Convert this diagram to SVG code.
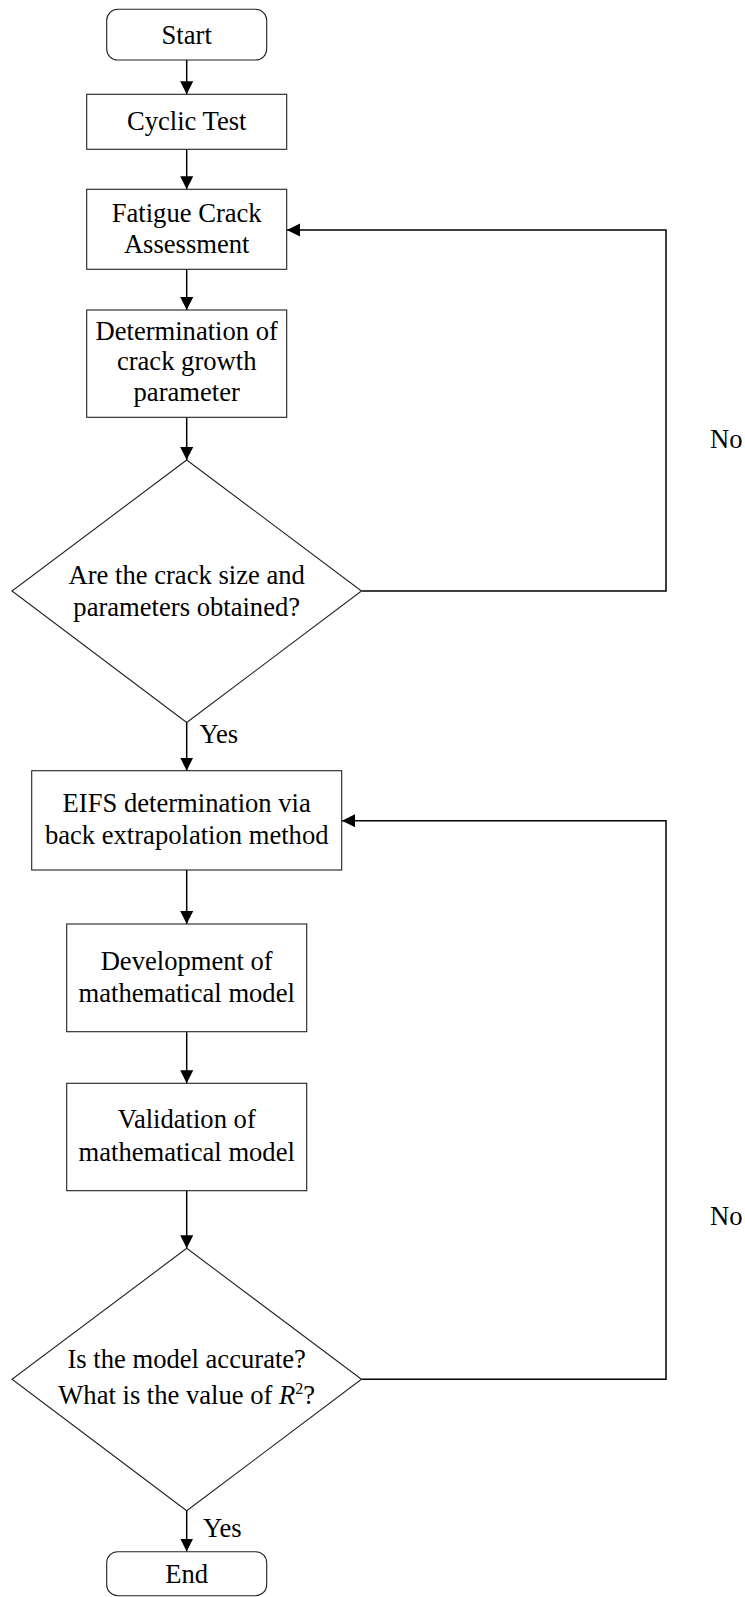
<svg xmlns="http://www.w3.org/2000/svg" width="745" height="1597" viewBox="0 0 745 1597">
<style>
.box{fill:#fff;stroke:#222;stroke-width:1.1}
.t{font-family:"Liberation Serif","Times New Roman",serif;font-size:26.6px;fill:#000;text-anchor:middle}
.lbl{font-family:"Liberation Serif","Times New Roman",serif;font-size:26.6px;fill:#000}
.c{fill:none;stroke:#000;stroke-width:1.5}
</style>
<defs>
<marker id="ah" markerUnits="userSpaceOnUse" markerWidth="14" markerHeight="14" refX="13" refY="6.5" orient="auto">
<path d="M0,0 L13,6.5 L0,13 z" fill="#000"/>
</marker>
</defs>
<rect width="745" height="1597" fill="#fff"/>
<g id="connectors">
<line class="c" x1="186.7" y1="60" x2="186.7" y2="94.3" marker-end="url(#ah)"/>
<line class="c" x1="186.7" y1="149.3" x2="186.7" y2="189.3" marker-end="url(#ah)"/>
<line class="c" x1="186.7" y1="269.3" x2="186.7" y2="310" marker-end="url(#ah)"/>
<line class="c" x1="186.7" y1="417.3" x2="186.7" y2="460" marker-end="url(#ah)"/>
<polyline class="c" points="361.5,591 666,591 666,230 287,230" marker-end="url(#ah)"/>
<line class="c" x1="186.7" y1="722.5" x2="186.7" y2="770.7" marker-end="url(#ah)"/>
<line class="c" x1="186.7" y1="870" x2="186.7" y2="924" marker-end="url(#ah)"/>
<line class="c" x1="186.7" y1="1031.7" x2="186.7" y2="1083.3" marker-end="url(#ah)"/>
<line class="c" x1="186.7" y1="1190.7" x2="186.7" y2="1248.3" marker-end="url(#ah)"/>
<polyline class="c" points="361.5,1379.3 666,1379.3 666,820.7 342,820.7" marker-end="url(#ah)"/>
<line class="c" x1="186.7" y1="1510.7" x2="186.7" y2="1551.5" marker-end="url(#ah)"/>
<text class="lbl" x="710" y="448">No</text>
<text class="lbl" x="710" y="1225">No</text>
<text class="lbl" x="199.5" y="743">Yes</text>
<text class="lbl" x="203" y="1537">Yes</text>
</g>
<g id="start">
<rect class="box" x="106.7" y="9.3" width="160" height="50.7" rx="11"/>
<text class="t" x="186.7" y="43.5">Start</text>
</g>
<g id="cyclic">
<rect class="box" x="86.7" y="94.3" width="200" height="55"/>
<text class="t" x="186.7" y="130">Cyclic Test</text>
</g>
<g id="fatigue">
<rect class="box" x="86.7" y="189.3" width="200" height="80"/>
<text class="t" x="186.7" y="221.7">Fatigue Crack</text>
<text class="t" x="186.7" y="253.3">Assessment</text>
</g>
<g id="determination">
<rect class="box" x="86.7" y="310" width="200" height="107.3"/>
<text class="t" x="186.7" y="339.5">Determination of</text>
<text class="t" x="186.7" y="370">crack growth</text>
<text class="t" x="186.7" y="401">parameter</text>
</g>
<g id="decision1">
<polygon class="box" points="186.7,460 361.5,591 186.7,722.5 12,591"/>
<text class="t" x="186.7" y="583.5">Are the crack size and</text>
<text class="t" x="186.7" y="615.5">parameters obtained?</text>
</g>
<g id="eifs">
<rect class="box" x="31.7" y="770.7" width="310" height="99.3"/>
<text class="t" x="186.7" y="811.7">EIFS determination via</text>
<text class="t" x="186.7" y="844">back extrapolation method</text>
</g>
<g id="development">
<rect class="box" x="66.7" y="924" width="240" height="107.7"/>
<text class="t" x="186.7" y="970">Development of</text>
<text class="t" x="186.7" y="1001.7">mathematical model</text>
</g>
<g id="validation">
<rect class="box" x="66.7" y="1083.3" width="240" height="107.4"/>
<text class="t" x="186.7" y="1128.3">Validation of</text>
<text class="t" x="186.7" y="1160.7">mathematical model</text>
</g>
<g id="decision2">
<polygon class="box" points="186.7,1248.3 361.5,1379.3 186.7,1510.7 12,1379.3"/>
<text class="t" x="186.7" y="1368">Is the model accurate?</text>
<text class="t" x="186.7" y="1404">What is the value of <tspan font-style="italic">R</tspan><tspan dy="-10" font-size="16">2</tspan><tspan dy="10">?</tspan></text>
</g>
<g id="end">
<rect class="box" x="106.7" y="1551.7" width="160" height="44" rx="11"/>
<text class="t" x="186.7" y="1583">End</text>
</g>
</svg>
